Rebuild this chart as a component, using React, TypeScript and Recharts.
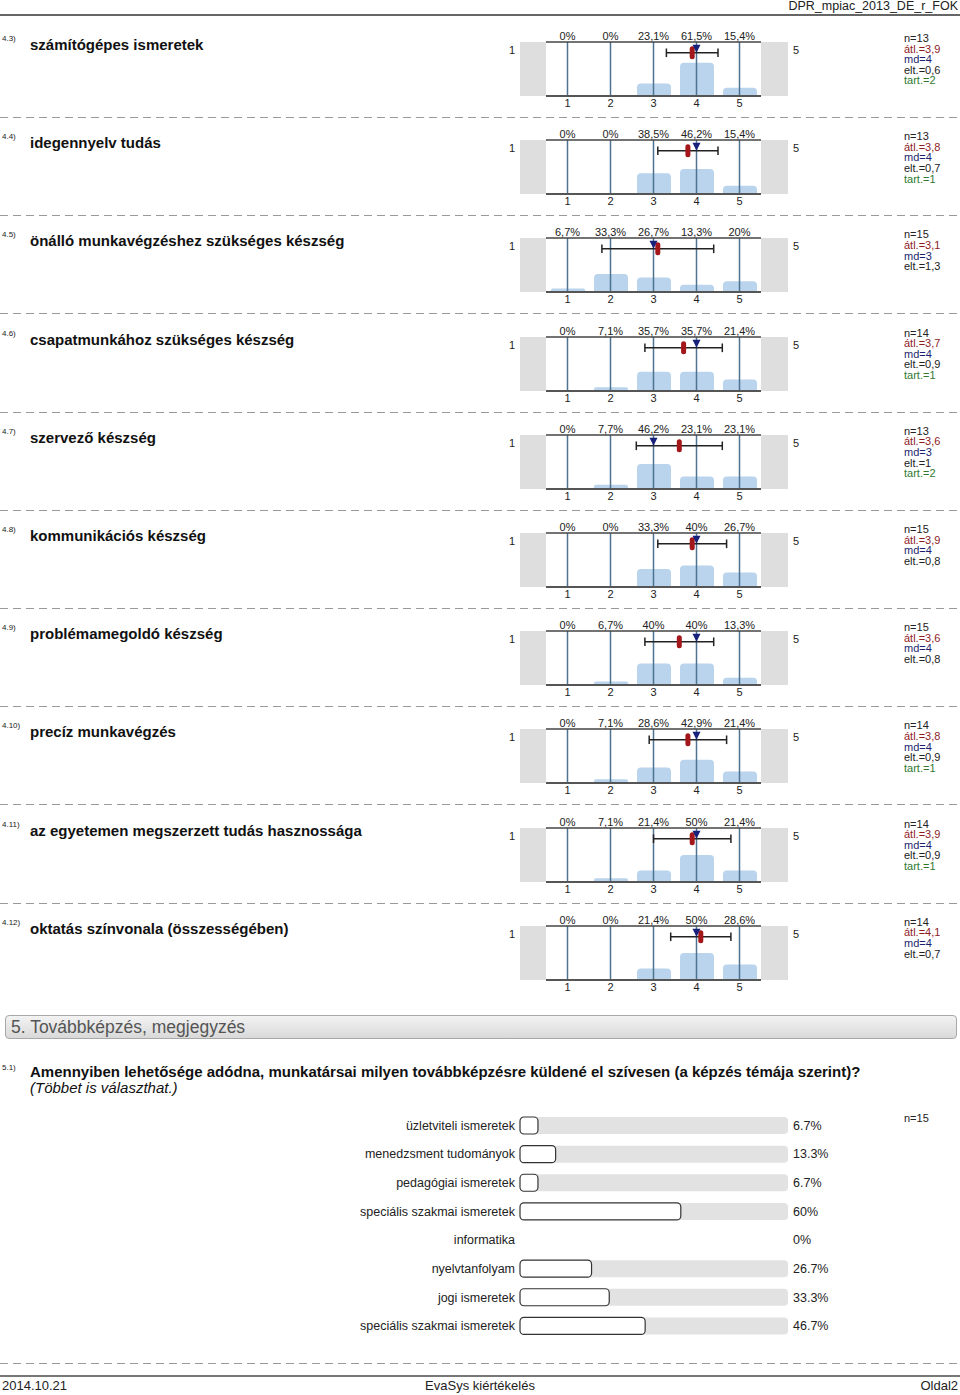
import React from "react";
import {
  ComposedChart,
  BarChart,
  Bar,
  XAxis,
  YAxis,
  ReferenceLine,
  Scatter,
} from "recharts";

const SCALE = [1, 2, 3, 4, 5];

const ITEM_CODES = ["4.3)", "4.4)", "4.5)", "4.6)", "4.7)", "4.8)", "4.9)", "4.10)", "4.11)", "4.12)"];

const ITEM_TITLES = [
  "számítógépes ismeretek",
  "idegennyelv tudás",
  "önálló munkavégzéshez szükséges készség",
  "csapatmunkához szükséges készség",
  "szervező készség",
  "kommunikációs készség",
  "problémamegoldó készség",
  "precíz munkavégzés",
  "az egyetemen megszerzett tudás hasznossága",
  "oktatás színvonala (összességében)",
];

const ITEM_PERCENTS = [
  [0, 0, 23.1, 61.5, 15.4],
  [0, 0, 38.5, 46.2, 15.4],
  [6.7, 33.3, 26.7, 13.3, 20],
  [0, 7.1, 35.7, 35.7, 21.4],
  [0, 7.7, 46.2, 23.1, 23.1],
  [0, 0, 33.3, 40, 26.7],
  [0, 6.7, 40, 40, 13.3],
  [0, 7.1, 28.6, 42.9, 21.4],
  [0, 7.1, 21.4, 50, 21.4],
  [0, 0, 21.4, 50, 28.6],
];

const ITEM_N = [13, 13, 15, 14, 13, 15, 15, 14, 14, 14];
const ITEM_MEAN = [3.9, 3.8, 3.1, 3.7, 3.6, 3.9, 3.6, 3.8, 3.9, 4.1];
const ITEM_MEDIAN = [4, 4, 3, 4, 3, 4, 4, 4, 4, 4];
const ITEM_SD = [0.6, 0.7, 1.3, 0.9, 1, 0.8, 0.8, 0.9, 0.9, 0.7];
const ITEM_ABST: (number | null)[] = [2, 1, null, 1, 2, null, null, 1, 1, null];

const TRAINING_LABELS = [
  "üzletviteli ismeretek",
  "menedzsment tudományok",
  "pedagógiai ismeretek",
  "speciális szakmai ismeretek",
  "informatika",
  "nyelvtanfolyam",
  "jogi ismeretek",
  "speciális szakmai ismeretek",
];
const TRAINING_PCTS = [6.7, 13.3, 6.7, 60, 0, 26.7, 33.3, 46.7];
const TRAINING_N = 15;

const FONT = "'Liberation Sans', Arial, sans-serif";
const BLOCK_TOP = 20;
const BLOCK_STEP = 98.2;
const WHISKER_Y = 80;

const comma = (v: number) => String(v).replace(".", ",");

const MeanMark = (p: any) => (
  <rect x={p.cx - 2.5} y={p.cy - 6.5} width={5} height={13} rx={2.5} fill="#a3161a" />
);

const MedianMark = (p: any) => (
  <path d={`M${p.cx - 4},${p.cy - 8}L${p.cx + 4},${p.cy - 8}L${p.cx},${p.cy}Z`} fill="#17207a" />
);

function ItemChart({ idx }: { idx: number }) {
  const pcts = ITEM_PERCENTS[idx];
  const data = SCALE.map((s, i) => ({ x: s, pct: pcts[i] }));
  const mean = ITEM_MEAN[idx];
  const sd = ITEM_SD[idx];
  const lo = mean - sd;
  const hi = mean + sd;
  return (
    <ComposedChart width={268} height={82} data={data} margin={{ top: 0, right: 27, bottom: 0, left: 26 }}>
      <XAxis
        xAxisId="top"
        orientation="top"
        dataKey="x"
        type="category"
        height={12}
        tickSize={0}
        tickMargin={2}
        tickLine={false}
        axisLine={{ stroke: "#444", strokeWidth: 1.5 }}
        tick={{ fontSize: 11, fill: "#222" }}
        tickFormatter={(v) => comma(pcts[v - 1]) + "%"}
        interval={0}
      />
      <XAxis
        xAxisId="cat"
        dataKey="x"
        type="category"
        height={16}
        tickSize={0}
        tickMargin={3}
        tickLine={false}
        axisLine={{ stroke: "#555", strokeWidth: 2 }}
        tick={{ fontSize: 11, fill: "#222" }}
        interval={0}
      />
      <XAxis xAxisId="num" dataKey="x" type="number" domain={[0.5, 5.5]} hide height={0} />
      <YAxis hide domain={[0, 100]} />
      <Bar xAxisId="cat" dataKey="pct" barSize={34} fill="#b9d4ec" radius={[4, 4, 0, 0]} isAnimationActive={false} />
      {SCALE.map((s) => (
        <ReferenceLine key={s} xAxisId="num" x={s} stroke="#4e7391" strokeWidth={1.5} />
      ))}
      <ReferenceLine xAxisId="num" segment={[{ x: lo, y: WHISKER_Y }, { x: hi, y: WHISKER_Y }]} stroke="#222" strokeWidth={1.5} />
      <ReferenceLine xAxisId="num" segment={[{ x: lo, y: WHISKER_Y - 8 }, { x: lo, y: WHISKER_Y + 8 }]} stroke="#222" strokeWidth={1.5} />
      <ReferenceLine xAxisId="num" segment={[{ x: hi, y: WHISKER_Y - 8 }, { x: hi, y: WHISKER_Y + 8 }]} stroke="#222" strokeWidth={1.5} />
      <Scatter xAxisId="num" data={[{ x: mean, y: WHISKER_Y }]} dataKey="y" shape={MeanMark} isAnimationActive={false} />
      <Scatter xAxisId="num" data={[{ x: ITEM_MEDIAN[idx], y: WHISKER_Y }]} dataKey="y" shape={MedianMark} isAnimationActive={false} />
    </ComposedChart>
  );
}

const dashed: React.CSSProperties = {
  position: "absolute",
  left: 0,
  width: 960,
  height: 1,
  backgroundImage: "repeating-linear-gradient(to right, #9a9a9a 0 8px, transparent 8px 13px)",
};

function ItemBlock({ idx }: { idx: number }) {
  const top = BLOCK_TOP + idx * BLOCK_STEP;
  const abst = ITEM_ABST[idx];
  return (
    <>
      <div style={{ position: "absolute", left: 2, top: top + 14, fontSize: 8, color: "#222" }}>{ITEM_CODES[idx]}</div>
      <div style={{ position: "absolute", left: 30, top: top + 16, fontSize: 15, fontWeight: "bold", lineHeight: "18px", color: "#111" }}>
        {ITEM_TITLES[idx]}
      </div>
      <div style={{ position: "absolute", left: 520, top: top + 22, width: 26, height: 54, background: "#dedede" }} />
      <div style={{ position: "absolute", left: 761, top: top + 22, width: 27, height: 54, background: "#dedede" }} />
      <div style={{ position: "absolute", left: 509, top: top + 23, fontSize: 11, lineHeight: "14px" }}>1</div>
      <div style={{ position: "absolute", left: 793, top: top + 23, fontSize: 11, lineHeight: "14px" }}>5</div>
      <div style={{ position: "absolute", left: 520, top: top + 10 }}>
        <ItemChart idx={idx} />
      </div>
      <div style={{ position: "absolute", left: 904, top: top + 13, fontSize: 11, lineHeight: "10.6px" }}>
        <div style={{ color: "#222" }}>n={ITEM_N[idx]}</div>
        <div style={{ color: "#8e1b1f" }}>átl.={comma(ITEM_MEAN[idx])}</div>
        <div style={{ color: "#1c1f6e" }}>md={ITEM_MEDIAN[idx]}</div>
        <div style={{ color: "#222" }}>elt.={comma(ITEM_SD[idx])}</div>
        {abst !== null && <div style={{ color: "#2f7a2f" }}>tart.={abst}</div>}
      </div>
      {idx < ITEM_CODES.length - 1 && <div style={{ ...dashed, top: top + 97 }} />}
    </>
  );
}

function TrainingChart() {
  const data = TRAINING_PCTS.map((p, i) => ({ key: i, pct: p }));
  return (
    <BarChart layout="vertical" width={548} height={229} data={data} margin={{ top: 0, right: 0, bottom: 0, left: 0 }} barSize={17}>
      <XAxis type="number" domain={[0, 100]} hide />
      <YAxis
        yAxisId="l"
        type="category"
        dataKey="key"
        width={220}
        tickSize={0}
        tickMargin={5}
        axisLine={false}
        tickLine={false}
        tick={{ fontSize: 12.5, fill: "#222" }}
        tickFormatter={(v) => TRAINING_LABELS[v]}
      />
      <YAxis
        yAxisId="r"
        orientation="right"
        type="category"
        dataKey="key"
        width={60}
        tickSize={0}
        tickMargin={5}
        axisLine={false}
        tickLine={false}
        tick={{ fontSize: 12.5, fill: "#222" }}
        tickFormatter={(v) => TRAINING_PCTS[v] + "%"}
      />
      <Bar
        yAxisId="l"
        dataKey="pct"
        fill="#ffffff"
        stroke="#333"
        strokeWidth={1.2}
        radius={4}
        background={{ fill: "#e2e2e2", radius: 4 } as any}
        isAnimationActive={false}
      />
    </BarChart>
  );
}

export default function App() {
  return (
    <div
      style={{
        position: "absolute",
        left: 0,
        top: 0,
        width: 960,
        height: 1395,
        background: "#fff",
        fontFamily: FONT,
        color: "#222",
        overflow: "hidden",
      }}
    >
      <div style={{ position: "absolute", right: 2, top: 0, fontSize: 12.5, lineHeight: "13px" }}>DPR_mpiac_2013_DE_r_FOK</div>
      <div style={{ position: "absolute", left: 0, top: 14, width: 960, height: 2, background: "#666" }} />

      {ITEM_CODES.map((_, i) => (
        <ItemBlock key={i} idx={i} />
      ))}

      <div
        style={{
          position: "absolute",
          left: 5,
          top: 1015,
          width: 945,
          height: 22,
          border: "1px solid #a8a8a8",
          borderRadius: 4,
          background: "linear-gradient(#f3f3f3, #d9d9d9)",
          fontSize: 17.5,
          lineHeight: "22px",
          color: "#555",
          paddingLeft: 5,
        }}
      >
        5. Továbbképzés, megjegyzés
      </div>

      <div style={{ position: "absolute", left: 2, top: 1063, fontSize: 8 }}>5.1)</div>
      <div style={{ position: "absolute", left: 30, top: 1064, fontSize: 15, lineHeight: "16px", color: "#111" }}>
        <div style={{ fontWeight: "bold" }}>
          Amennyiben lehetősége adódna, munkatársai milyen továbbképzésre küldené el szívesen (a képzés témája szerint)?
        </div>
        <div style={{ fontStyle: "italic" }}>(Többet is választhat.)</div>
      </div>

      <div style={{ position: "absolute", left: 300, top: 1111 }}>
        <TrainingChart />
      </div>
      <div style={{ position: "absolute", left: 904, top: 1112, fontSize: 11 }}>n={TRAINING_N}</div>

      <div style={{ ...dashed, top: 1363 }} />
      <div style={{ position: "absolute", left: 0, top: 1375, width: 960, height: 2, background: "#777" }} />
      <div style={{ position: "absolute", left: 2, top: 1378, fontSize: 13 }}>2014.10.21</div>
      <div style={{ position: "absolute", left: 0, width: 960, textAlign: "center", top: 1378, fontSize: 13 }}>EvaSys kiértékelés</div>
      <div style={{ position: "absolute", right: 2, top: 1378, fontSize: 13 }}>Oldal2</div>
    </div>
  );
}
